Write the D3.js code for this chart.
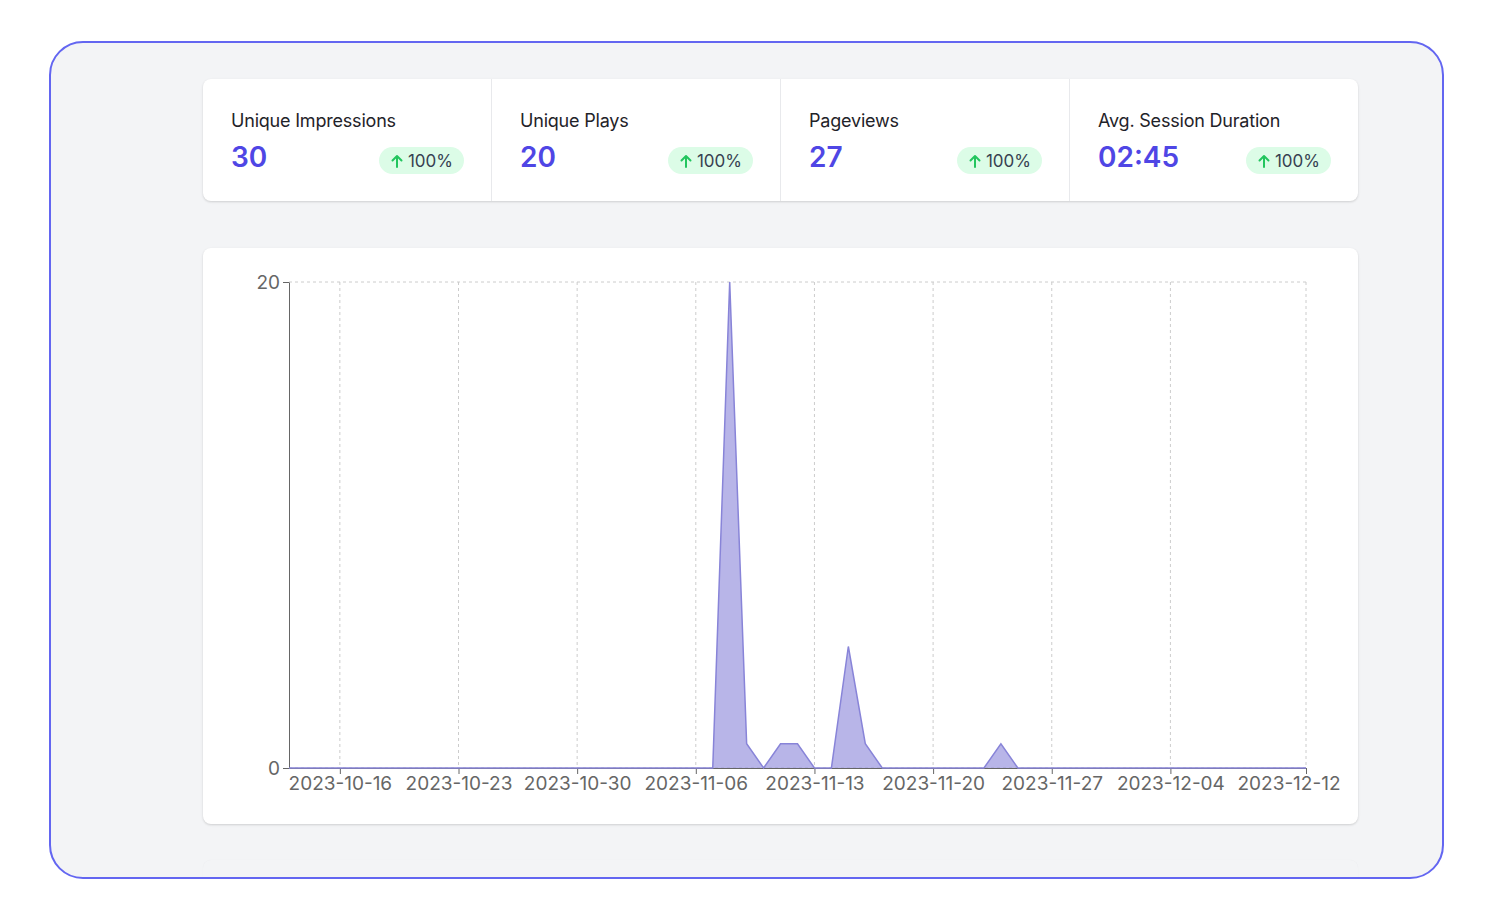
<!DOCTYPE html>
<html>
<head>
<meta charset="utf-8">
<script src="https://cdn.jsdelivr.net/npm/d3@7"></script>
<style>
  html, body { margin: 0; padding: 0; background: #fff; }
  body { width: 1500px; height: 900px; position: relative; overflow: hidden; font-family: Inter, "Noto Sans", sans-serif; }
  .frame { position: absolute; left: 49px; top: 41px; width: 1391px; height: 834px; border: 2px solid #6366f1; border-radius: 34px; background: #f3f4f6; overflow: hidden; }
  .card { position: absolute; background: #fff; border-radius: 8px; box-shadow: 0 1px 3px rgba(0,0,0,0.10), 0 1px 2px rgba(0,0,0,0.06); }
  .stats { left: 152px; top: 36px; width: 1155px; height: 122px; display: flex; }
  .stat { position: relative; flex: 1; border-left: 1px solid #e8e9ec; }
  .stat:first-child { border-left: none; }
  .stat .title { position: absolute; left: 28px; top: 32px; font-size: 18px; line-height: 20px; color: #1f2329; letter-spacing: -0.2px; }
  .stat .value { position: absolute; left: 28px; top: 62px; font-size: 28px; line-height: 32px; font-weight: 600; color: #4f46e5; }
  .stat .badge { position: absolute; right: 27px; top: 68px; height: 27px; padding: 0 11px 0 12px; border-radius: 14px; background: #dcfce7; display: flex; align-items: center; font-size: 17px; color: #374151; }
  .stat .badge svg { margin-right: 5px; }
  .chartcard { left: 152px; top: 205px; width: 1155px; height: 576px; }
  .ghost { left: 152px; top: 817px; width: 1155px; height: 120px; background: #f3f4f6; box-shadow: 0 0 1px rgba(0,0,0,0.05); }
  .axis text { font-family: Inter, "Noto Sans", sans-serif; font-size: 19px; fill: #666; }
  .axis path, .axis line { stroke: #666; }
</style>
</head>
<body>
<div class="frame">
  <div class="card stats" id="stats"></div>
  <div class="card chartcard" id="chart"></div>
  <div class="card ghost"></div>
</div>
<script>
// stat cards
const statTitles = ["Unique Impressions", "Unique Plays", "Pageviews", "Avg. Session Duration"];
const statValues = ["30", "20", "27", "02:45"];
const statChanges = ["100%", "100%", "100%", "100%"];

// daily series
const dates = [
  "2023-10-13","2023-10-14","2023-10-15","2023-10-16","2023-10-17","2023-10-18","2023-10-19",
  "2023-10-20","2023-10-21","2023-10-22","2023-10-23","2023-10-24","2023-10-25","2023-10-26",
  "2023-10-27","2023-10-28","2023-10-29","2023-10-30","2023-10-31","2023-11-01","2023-11-02",
  "2023-11-03","2023-11-04","2023-11-05","2023-11-06","2023-11-07","2023-11-08","2023-11-09",
  "2023-11-10","2023-11-11","2023-11-12","2023-11-13","2023-11-14","2023-11-15","2023-11-16",
  "2023-11-17","2023-11-18","2023-11-19","2023-11-20","2023-11-21","2023-11-22","2023-11-23",
  "2023-11-24","2023-11-25","2023-11-26","2023-11-27","2023-11-28","2023-11-29","2023-11-30",
  "2023-12-01","2023-12-02","2023-12-03","2023-12-04","2023-12-05","2023-12-06","2023-12-07",
  "2023-12-08","2023-12-09","2023-12-10","2023-12-11","2023-12-12"
];
const views = [
  0,0,0,0,0,0,0,
  0,0,0,0,0,0,0,
  0,0,0,0,0,0,0,
  0,0,0,0,0,20,1,
  0,1,1,0,0,5,1,
  0,0,0,0,0,0,0,
  1,0,0,0,0,0,0,
  0,0,0,0,0,0,0,
  0,0,0,0,0
];
const xTickLabels = ["2023-10-16","2023-10-23","2023-10-30","2023-11-06","2023-11-13","2023-11-20","2023-11-27","2023-12-04","2023-12-12"];
const yTickValues = [0, 20];

const stat = d3.select("#stats").selectAll(".stat")
  .data(statTitles.map((t, i) => ({ title: t, value: statValues[i], change: statChanges[i] })))
  .enter().append("div").attr("class", "stat");
stat.append("div").attr("class", "title").text(d => d.title);
stat.append("div").attr("class", "value").text(d => d.value);
const badge = stat.append("div").attr("class", "badge");
const arrow = badge.append("svg").attr("width", 12).attr("height", 14).attr("viewBox", "0 0 12 14");
arrow.append("path")
  .attr("d", "M6 13V2M1.5 6.5L6 2l4.5 4.5")
  .attr("fill", "none")
  .attr("stroke", "#22c55e")
  .attr("stroke-width", 2)
  .attr("stroke-linecap", "round")
  .attr("stroke-linejoin", "round");
badge.append("span").text(d => d.change);

// chart
const width = 1155, height = 576;
const margin = { top: 34, left: 86, bottom: 56, right: 52 };
const iwidth = width - margin.left - margin.right;
const iheight = height - margin.top - margin.bottom;

const parse = d3.utcParse("%Y-%m-%d");
const data = dates.map((d, i) => ({ date: parse(d), views: views[i] }));
const tickDates = xTickLabels.map(parse);

const svg = d3.select("#chart").append("svg")
  .attr("width", width)
  .attr("height", height);
const g = svg.append("g").attr("transform", `translate(${margin.left},${margin.top})`);

const x = d3.scaleUtc()
  .domain([data[0].date, data[data.length - 1].date])
  .range([0, iwidth]);
const y = d3.scaleLinear()
  .domain([0, 20])
  .range([iheight, 0]);

// grid
const grid = g.append("g").attr("stroke", "#ccc").attr("stroke-dasharray", "3 3");
grid.selectAll(".h").data(yTickValues).enter().append("line")
  .attr("x1", 0).attr("x2", iwidth)
  .attr("y1", d => y(d)).attr("y2", d => y(d));
grid.selectAll(".v").data(tickDates).enter().append("line")
  .attr("x1", d => x(d)).attr("x2", d => x(d))
  .attr("y1", 0).attr("y2", iheight);

// axes
const xAxis = g.append("g")
  .attr("class", "axis")
  .attr("transform", `translate(0, ${iheight})`)
  .call(d3.axisBottom(x).tickValues(tickDates).tickFormat(d3.utcFormat("%Y-%m-%d")).tickSizeOuter(0));
// last label kept inside the card, like the original
xAxis.selectAll(".tick:last-of-type text")
  .attr("text-anchor", "end")
  .attr("x", width - margin.left - 18 - iwidth);
g.append("g")
  .attr("class", "axis")
  .call(d3.axisLeft(y).tickValues(yTickValues).tickSizeOuter(0));

// area
const area = d3.area()
  .x(d => x(d.date))
  .y0(iheight)
  .y1(d => y(d.views));
const line = d3.line()
  .x(d => x(d.date))
  .y(d => y(d.views));
g.append("path").datum(data)
  .attr("d", area)
  .attr("fill", "#8884d8")
  .attr("fill-opacity", 0.6);
g.append("path").datum(data)
  .attr("d", line)
  .attr("fill", "none")
  .attr("stroke", "#8884d8")
  .attr("stroke-width", 1.5);
</script>
</body>
</html>
